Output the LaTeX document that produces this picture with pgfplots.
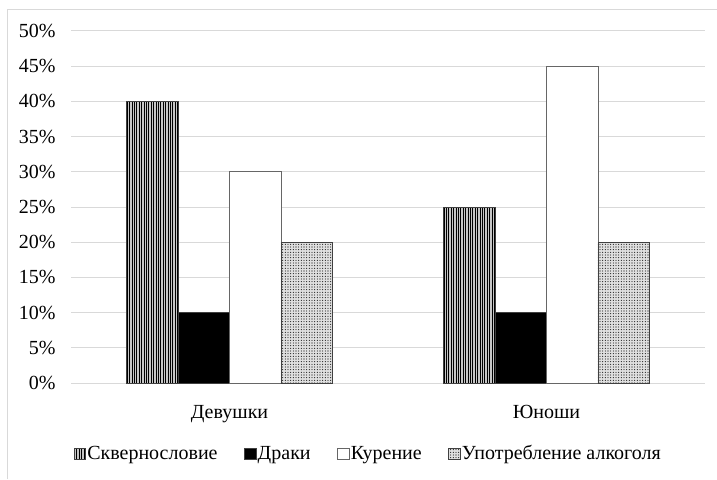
\documentclass[border=0pt]{standalone}
\usepackage{pgfplots}
\pgfplotsset{compat=1.18}
\usepackage{fontspec}
\setmainfont{Liberation Serif}
\usetikzlibrary{patterns.meta}

\definecolor{barline}{HTML}{404040}
\definecolor{gridgray}{HTML}{D9D9D9}

\begin{document}
\begin{tikzpicture}[font=\fontsize{15}{18}\selectfont]
  \useasboundingbox (0pt,0pt) rectangle (537.75pt,359.25pt);
  \draw[gridgray, line width=0.75pt] (5.25pt,0pt) -- (5.25pt,351.75pt) -- (537.75pt,351.75pt);
  \begin{axis}[
      at={(53.25pt,72pt)}, anchor=south west,
      scale only axis, width=475.5pt, height=264pt,
      ybar=0pt, bar width=38.6pt,
      xmin=-0.5, xmax=1.5, ymin=0, ymax=50,
      xtick={0,1}, xticklabels={Девушки,Юноши},
      ytick={0,5,...,50},
      yticklabel={\pgfmathprintnumber{\tick}\%},
      /pgf/number format/assume math mode=true,
      major tick length=0pt,
      axis line style={draw=none},
      ymajorgrids, grid style={draw=gridgray, line width=0.75pt},
      yticklabel style={anchor=east, xshift=-8pt},
      xticklabel style={yshift=-13.5pt},
      legend columns=4,
      legend style={at={(0.004,-0.201)}, anchor=west, draw=none, inner sep=0pt,
        /tikz/every even column/.append style={column sep=19pt},
        nodes={inner sep=1pt}},
      legend image code/.code={\draw[#1] (0pt,-4.25pt) rectangle (8.5pt,4.25pt);},
    ]
    \addplot[draw=barline, line width=0.6pt, fill=gray!45,
      postaction={pattern={Lines[angle=90,distance=1.8pt,line width=0.55pt]}, pattern color=black}]
      coordinates {(0,40) (1,25)};
    \addplot[draw=barline, line width=0.6pt, fill=black]
      coordinates {(0,10) (1,10)};
    \addplot[draw=barline!80, line width=0.6pt, fill=white]
      coordinates {(0,30) (1,45)};
    \addplot[draw=barline, line width=0.6pt, fill=gray!25,
      postaction={pattern={Dots[distance=2pt,radius=0.4pt]}, pattern color=black}]
      coordinates {(0,20) (1,20)};
    \addlegendentry{Сквернословие}
    \addlegendentry{Драки}
    \addlegendentry{Курение}
    \addlegendentry{Употребление алкоголя}
  \end{axis}
\end{tikzpicture}
\end{document}
